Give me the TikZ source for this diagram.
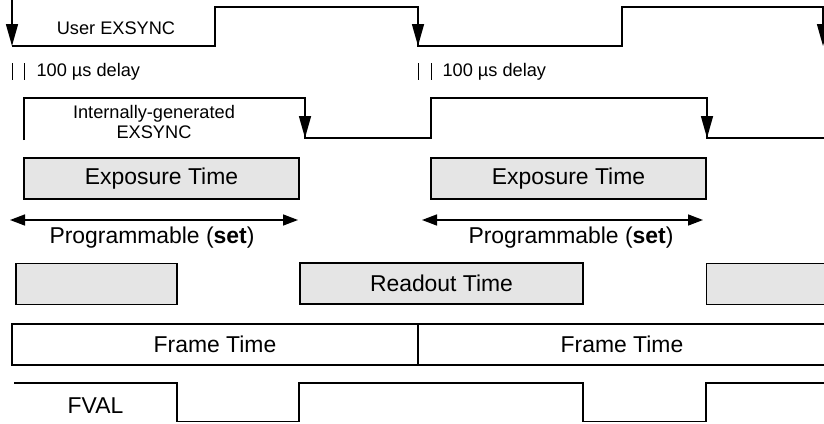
\documentclass[tikz,border=0pt]{standalone}
\usepackage{fontspec}
\setmainfont{Liberation Sans}
\usetikzlibrary{arrows.meta}

\tikzset{
    wave/.style={line width=1.5pt},
    falledge/.style={line width=1.5pt, -{Triangle[length=22pt,width=12pt]}},
    progarrow/.style={line width=1.5pt, {Triangle[length=15pt,width=11pt]}-{Triangle[length=15pt,width=11pt]}},
    timebox/.style={draw, line width=1.1pt, fill=gray!20, minimum height=41pt, inner sep=0pt, font=\bigfont},
    framebox/.style={draw, line width=1.1pt, minimum height=41pt, inner sep=0pt, font=\bigfont},
}
\newcommand{\bigfont}{\fontsize{22.9}{26}\selectfont}
\newcommand{\smallfont}{\fontsize{18.2}{20}\selectfont}

\begin{document}
\begin{tikzpicture}[x=1pt, y=-1pt]
    \useasboundingbox (0,0) rectangle (824,423);
    \clip (0,0) rectangle (824,423);

    % User EXSYNC
    \draw[wave] (12,46) -- (215,46) -- (215,7) -- (418,7) -- (418,46) -- (622,46) -- (622,7) -- (830,7);
    \draw[falledge] (12,0) -- (12,46);
    \draw[falledge] (418,7) -- (418,46);
    \draw[falledge] (823,7) -- (823,46);
    \node[font=\smallfont] (userlbl) at (116,28) {User EXSYNC};

    % 100 us delay
    \draw[line width=1pt] (12,63) -- (12,80) (24,63) -- (24,80);
    \draw[line width=1pt] (418,63) -- (418,80) (431,63) -- (431,80);
    \node[font=\smallfont, anchor=base west] (delay1) at (33,76) {100 µs delay};
    \node[font=\smallfont, anchor=base west] (delay2) at (439,76) {100 µs delay};

    % Internally-generated EXSYNC
    \draw[wave] (24,140) -- (24,98) -- (305,98) -- (305,138) -- (431,138) -- (431,98) -- (707,98) -- (707,138) -- (830,138);
    \draw[falledge] (305,98) -- (305,138);
    \draw[falledge] (707,98) -- (707,138);
    \node[font=\smallfont, align=center, anchor=base] (intlbl) at (154,138) {Internally-generated\\EXSYNC};

    % Exposure
    \node[timebox, minimum width=275pt] (expo1) at (161.5,178.5) {Exposure Time};
    \node[timebox, minimum width=275pt] (expo2) at (568.5,178.5) {Exposure Time};

    % Programmable
    \coordinate (prog1l) at (10,220);
    \coordinate (prog1r) at (298,220);
    \coordinate (prog2l) at (422,220);
    \coordinate (prog2r) at (703,220);
    \draw[progarrow] (prog1l) -- (prog1r);
    \draw[progarrow] (prog2l) -- (prog2r);
    \node[font=\bigfont, anchor=base] (prog1) at (152,243) {Programmable (\textbf{set})};
    \node[font=\bigfont, anchor=base] (prog2) at (571,243) {Programmable (\textbf{set})};

    % Readout
    \node[timebox, minimum width=161pt] (read1) at (96.5,284) {};
    \node[timebox, minimum width=283pt] (read2) at (441.5,283.5) {Readout Time};
    \node[timebox, minimum width=140pt, anchor=west] (read3) at (706,284) {};

    % Frame time
    \node[framebox, minimum width=406pt] (frame1) at (215,344.5) {Frame Time};
    \node[framebox, minimum width=412pt, anchor=west] (frame2) at (418,344.5) {};
    \node[font=\bigfont] (frame2lbl) at (622,344.5) {Frame Time};

    % FVAL
    \draw[wave] (14,383) -- (177,383) -- (177,421.5) -- (299,421.5) -- (299,383) -- (583,383) -- (583,421.5) -- (706,421.5) -- (706,383) -- (830,383);
    \node[font=\bigfont, anchor=base] (fvallbl) at (95.5,413) {FVAL};
\end{tikzpicture}
\end{document}
